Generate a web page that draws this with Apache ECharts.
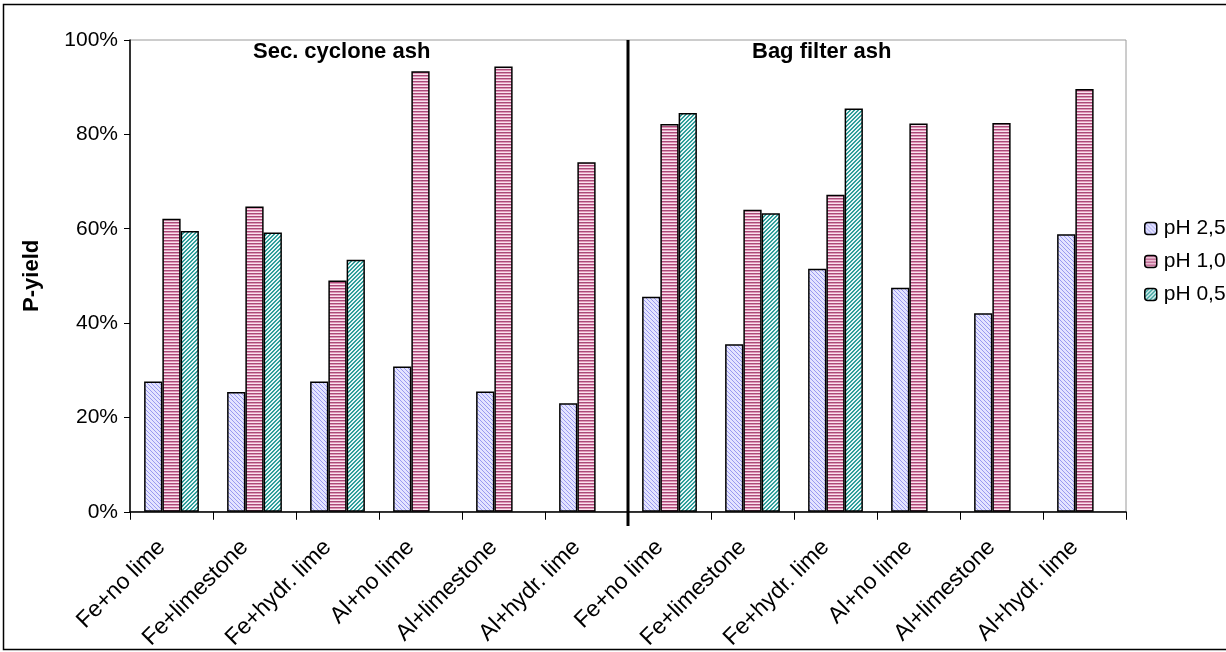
<!DOCTYPE html>
<html>
<head>
<meta charset="utf-8">
<script src="https://cdn.jsdelivr.net/npm/echarts@6/dist/echarts.min.js"></script>
<style>
  html, body { margin: 0; padding: 0; background: #ffffff; }
  #chart { width: 1226px; height: 652px; }
</style>
</head>
<body>
<div id="chart"></div>
<script>
// ---- data ----
var categories = ['Fe+no lime', 'Fe+limestone', 'Fe+hydr. lime', 'Al+no lime', 'Al+limestone', 'Al+hydr. lime',
                  'Fe+no lime', 'Fe+limestone', 'Fe+hydr. lime', 'Al+no lime', 'Al+limestone', 'Al+hydr. lime'];
var seriesNames = ['pH 2,5', 'pH 1,0', 'pH 0,5'];
var ph25 = [27.6, 25.4, 27.6, 30.8, 25.5, 23.0, 45.6, 35.5, 51.5, 47.5, 42.1, 58.8];
var ph10 = [62.1, 64.7, 49.0, 93.4, 94.4, 74.1, 82.2, 64.0, 67.2, 82.3, 82.4, 89.6];
var ph05 = [59.5, 59.2, 53.4, null, null, null, 84.5, 63.3, 85.5, null, null, null];
var yTicks = [0, 20, 40, 60, 80, 100];
var groupTitles = ['Sec. cyclone ash', 'Bag filter ash'];
var dividerAt = 6; // category boundary between the two groups

// ---- patterns ----
function makePattern(size, draw) {
  var c = document.createElement('canvas');
  c.width = size; c.height = size;
  var g = c.getContext('2d');
  draw(g, size);
  return { image: c, repeat: 'repeat' };
}
var lavender = makePattern(4, function (g, s) {
  g.fillStyle = '#e4e4ff'; g.fillRect(0, 0, s, s);
  g.fillStyle = '#9a9af0';
  for (var i = 0; i < s; i++) { g.fillRect(i, i, 1, 1); }
});
var pink = makePattern(3, function (g, s) {
  g.fillStyle = '#aa4a78'; g.fillRect(0, 0, s, 1);
  g.fillStyle = '#e096b8'; g.fillRect(0, 1, s, 1);
  g.fillStyle = '#f8e2ee'; g.fillRect(0, 2, s, 1);
});
var teal = makePattern(4, function (g, s) {
  g.fillStyle = '#e8f6f6'; g.fillRect(0, 0, s, s);
  g.fillStyle = '#2f9e9a';
  for (var i = 0; i < s; i++) { g.fillRect(s - 1 - i, i, 1, 1); g.fillRect((s - i) % s, i, 1, 1); }
});

var FONT = 'Liberation Sans, Arial, sans-serif';
var chart = echarts.init(document.getElementById('chart'), null, { renderer: 'canvas' });

function barSeries(name, data, fill) {
  return {
    name: name, type: 'bar', data: data,
    barGap: '0%', barCategoryGap: '34%',
    itemStyle: { color: fill, borderColor: '#000000', borderWidth: 1.5 },
    emphasis: { disabled: true }
  };
}

chart.setOption({
  animation: false,
  textStyle: { fontFamily: FONT },
  grid: { left: 130, right: 100, top: 40, bottom: 140, show: true, borderColor: '#9a9a9a', borderWidth: 1, backgroundColor: 'transparent' },
  legend: {
    data: seriesNames,
    orient: 'vertical', left: 1139, top: 213,
    itemWidth: 12, itemHeight: 12, itemGap: 12,
    textStyle: { fontSize: 21, color: '#000', fontFamily: FONT, padding: [0, 0, 0, 2] },
    itemStyle: { borderColor: '#000', borderWidth: 1.5 }
  },
  xAxis: [{
    type: 'category', data: categories, boundaryGap: true,
    axisLine: { lineStyle: { color: '#000', width: 1.5 } },
    axisTick: { show: true, alignWithLabel: false, interval: 0, length: 8, lineStyle: { color: '#000' } },
    axisLabel: { interval: 0, rotate: 45, fontSize: 23, color: '#000', margin: 22, padding: [0, 14, 0, 0], fontFamily: FONT }
  }, {
    type: 'value', min: 0, max: 12, show: false
  }],
  yAxis: {
    type: 'value', min: 0, max: 100, interval: 20,
    name: 'P-yield', nameLocation: 'middle', nameGap: 87, nameRotate: 90,
    nameTextStyle: { fontSize: 22, fontWeight: 'bold', color: '#000', fontFamily: FONT },
    axisLine: { show: true, lineStyle: { color: '#000', width: 1.5 } },
    axisTick: { show: true, inside: false, length: 6, lineStyle: { color: '#000' } },
    splitLine: { show: false },
    axisLabel: { fontSize: 21, color: '#000', margin: 12, fontFamily: FONT,
      formatter: function (v) { return yTicks.indexOf(v) >= 0 ? v + '%' : ''; } }
  },
  graphic: [
    { type: 'rect', shape: { x: 3.5, y: 4.5, width: 1240, height: 645 }, style: { fill: 'none', stroke: '#000', lineWidth: 1.5 }, silent: true, z: 100 },
    { type: 'text', left: 253, top: 41, style: { text: groupTitles[0], font: 'bold 22px ' + FONT, fill: '#000' } },
    { type: 'text', left: 752, top: 41, style: { text: groupTitles[1], font: 'bold 22px ' + FONT, fill: '#000' } }
  ],
  series: [
    barSeries(seriesNames[0], ph25, lavender),
    barSeries(seriesNames[1], ph10, pink),
    barSeries(seriesNames[2], ph05, teal),
    {
      name: 'divider', type: 'line', xAxisIndex: 1, yAxisIndex: 0,
      data: [[dividerAt, 100], [dividerAt, -3]], clip: false,
      symbol: 'none', lineStyle: { color: '#000', width: 3 }, z: 10, silent: true
    }
  ]
});
</script>
</body>
</html>
